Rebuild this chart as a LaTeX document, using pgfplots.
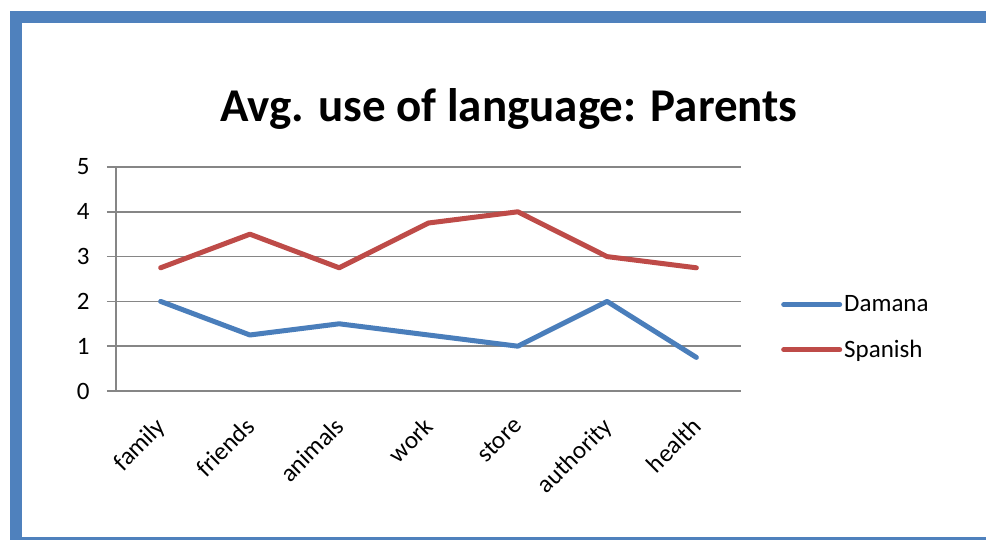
\documentclass[border=0pt]{standalone}
\usepackage{pgfplots}
\pgfplotsset{compat=1.18}
\usepackage{fontspec}
\setmainfont{Carlito}
\definecolor{frameblue}{HTML}{4F81BD}
\definecolor{damana}{HTML}{4A7EBB}
\definecolor{spanish}{HTML}{BE4B48}
\definecolor{gridgray}{HTML}{868686}
\begin{document}
\begin{tikzpicture}[x=1pt,y=1pt]
\path[use as bounding box] (0,0) rectangle (986,540);
\fill[white] (0,0) rectangle (986,540);
\fill[frameblue] (10,517) rectangle (986,529);
\fill[frameblue] (10,0) rectangle (22,529);
\fill[frameblue] (10,0) rectangle (986,3);
\node[font=\fontsize{47}{56}\selectfont\bfseries, anchor=base] at (509,418) {Avg. use of language: Parents};
\begin{axis}[
  scale only axis,
  width=625pt, height=224pt,
  at={(116pt,149pt)}, anchor=south west,
  xmin=-0.5, xmax=6.5, ymin=0, ymax=5,
  axis x line*=bottom, axis y line*=left,
  axis line style={gridgray, line width=1.5pt, -},
  xtick={0,...,6},
  xticklabels={family,friends,animals,work,store,authority,health},
  minor xtick={-0.5,0.5,...,6.5},
  ytick={0,...,5},
  ymajorgrids,
  major grid style={gridgray, line width=1.5pt},
  tick align=outside,
  major tick length=9pt,
  minor tick length=9pt,
  xtick style={draw=none},
  minor tick style={gridgray, line width=1.5pt, draw=gridgray},
  ytick style={gridgray, line width=1.5pt},
  /pgf/number format/assume math mode=true,
  ticklabel style={font=\fontsize{25}{30}\selectfont},
  yticklabel style={xshift=-14pt},
  xticklabel style={anchor=north east, shift={(-6pt,-11pt)}, rotate=45},
  legend style={draw=none, fill=none, at={(1.064,0.2835)}, anchor=west,
    font=\fontsize{25}{30}\selectfont, inner sep=0pt, row sep=23pt,
    /tikz/every even column/.append style={column sep=0pt}},
  legend cell align=left,
  legend image code/.code={\draw[#1] (0pt,0pt) -- (56pt,0pt);},
  every axis plot/.append style={line width=5pt, line cap=round, line join=round},
]
\addplot[damana] coordinates {(0,2) (1,1.25) (2,1.5) (3,1.25) (4,1) (5,2) (6,0.75)};
\addlegendentry{Damana}
\addplot[spanish] coordinates {(0,2.75) (1,3.5) (2,2.75) (3,3.75) (4,4) (5,3) (6,2.75)};
\addlegendentry{Spanish}
\end{axis}
\end{tikzpicture}
\end{document}
